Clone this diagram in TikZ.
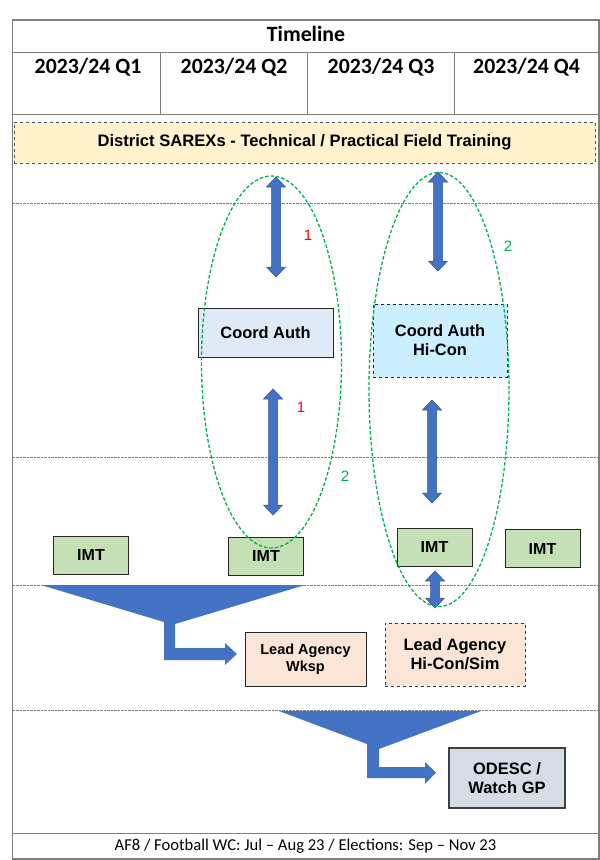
\documentclass[tikz,border=0pt]{standalone}
\usepackage{fontspec}
\setmainfont{Carlito}
\newfontfamily\arialf{Liberation Sans}
\usetikzlibrary{calc}
\definecolor{arrblue}{HTML}{4472C4}
\definecolor{arredge}{HTML}{2F528F}
\definecolor{greenell}{HTML}{00B050}
\definecolor{framegray}{HTML}{7F7F7F}
\definecolor{bannerfill}{HTML}{FFF2CC}
\definecolor{banneredge}{HTML}{44546A}
\definecolor{cafill}{HTML}{DEEBF7}
\definecolor{hcfill}{HTML}{CCEFFF}
\definecolor{imtfill}{HTML}{C5E0B4}
\definecolor{lafill}{HTML}{FBE5D6}
\definecolor{odfill}{HTML}{D6DCE5}
\newcommand{\dblarr}[2]{%
  \filldraw[blockarrow] ($(#1)+(-4.5,10)$) -- ($(#1)+(-9.5,10)$) -- (#1) -- ($(#1)+(9.5,10)$) -- ($(#1)+(4.5,10)$)
  -- ($(#2)+(4.5,-10)$) -- ($(#2)+(9.5,-10)$) -- (#2) -- ($(#2)+(-9.5,-10)$) -- ($(#2)+(-4.5,-10)$) -- cycle;}
\begin{document}
\begin{tikzpicture}[x=1pt,y=-1pt,
  frame/.style={draw=framegray,line width=1.4pt},
  sep/.style={draw=framegray,line width=0.9pt},
  hdash/.style={draw=gray,line width=0.6pt,dash pattern=on 2.5pt off 1pt},
  blockarrow/.style={fill=arrblue,draw=arredge,line width=0.5pt},
  funnel/.style={fill=arrblue},
  ell/.style={draw=greenell,line width=1.3pt,dash pattern=on 3.5pt off 2pt},
  box/.style={draw=black!85,line width=1pt,align=center,inner sep=0pt,
    font=\arialf\bfseries\fontsize{16.4}{19}\selectfont},
  imtbox/.style={box,fill=imtfill,minimum width=75pt,minimum height=38pt,
    font=\arialf\bfseries\fontsize{16}{18}\selectfont},
  hdr/.style={font=\bfseries\fontsize{21.8}{26}\selectfont,inner sep=0pt},
  numred/.style={text=red,font=\arialf\fontsize{15}{17}\selectfont},
  numgreen/.style={text=greenell,font=\arialf\fontsize{15}{17}\selectfont}]
\useasboundingbox (0,0) rectangle (600,860);
% frame and header
\draw[frame] (12.5,20) rectangle (599,859);
\draw[sep] (12.5,52) -- (599,52);
\draw[sep] (12.5,114) -- (599,114);
\draw[sep] (160,52) -- (160,114);
\draw[sep] (307,52) -- (307,114);
\draw[sep] (454,52) -- (454,114);
\draw[sep] (12.5,833) -- (599,833);
\node[hdr] (title) at (306,34) {Timeline};
\node[hdr] (q1) at (88,67.5) {2023/24 Q1};
\node[hdr] (q2) at (234,67.5) {2023/24 Q2};
\node[hdr] (q3) at (381,67.5) {2023/24 Q3};
\node[hdr] (q4) at (526.5,67.5) {2023/24 Q4};
\node[font=\fontsize{16.6}{19}\selectfont,inner sep=0pt] (footer) at (305.5,846) {AF8 / Football WC: Jul -- Aug 23 / Elections: Sep -- Nov 23};
% banner
\node[box,fill=bannerfill,draw=banneredge,dashed,line width=1pt,minimum width=581pt,minimum height=41pt,
  font=\arialf\bfseries\fontsize{16.6}{19}\selectfont] (banner) at (304.5,142.5) {District SAREXs - Technical / Practical Field Training};
% dashed separators
\foreach \yy in {203,457,585,710} \draw[hdash] (12.5,\yy) -- (599,\yy);
% boxes
\node[box,fill=cafill,minimum width=135pt,minimum height=49pt] (ca) at (265.5,332.5) {Coord Auth};
\node[box,fill=hcfill,dashed,minimum width=134pt,minimum height=73pt] (cahc) at (440,340.5) {Coord Auth\\Hi-Con};
\node[imtbox] (imt1) at (91,555) {IMT};
\node[imtbox] (imt2) at (266,556) {IMT};
\node[imtbox] (imt3) at (434.5,547) {IMT};
\node[imtbox] (imt4) at (542.5,548.5) {IMT};
\node[box,fill=lafill,minimum width=121pt,minimum height=54pt,
  font=\arialf\bfseries\fontsize{14.5}{17}\selectfont] (law) at (305.5,659) {Lead Agency\\Wksp};
\node[box,fill=lafill,dashed,draw=black!80,minimum width=140pt,minimum height=63pt,
  font=\arialf\bfseries\fontsize{16.5}{19}\selectfont] (lahc) at (455,654.5) {Lead Agency\\Hi-Con/Sim};
\node[box,fill=odfill,draw=black!75,line width=1.3pt,minimum width=116pt,minimum height=60pt,
  font=\arialf\bfseries\fontsize{16.5}{19}\selectfont] (odesc) at (507,778) {ODESC /\\Watch GP};
% funnels
\fill[funnel] (41,585) -- (305,585) -- (175,624) -- (175,648) -- (225,648) -- (225,643) -- (237,654)
  -- (225,665) -- (225,660) -- (164,660) -- (164,622) -- cycle;
\fill[funnel] (279,711) -- (481,711) -- (379,749) -- (379,767) -- (425,767) -- (425,762) -- (436,772.5)
  -- (425,784) -- (425,778) -- (367,778) -- (367,744) -- cycle;
% double arrows
\coordinate (a1t) at (276,177);
\coordinate (a1b) at (276,277);
\coordinate (a2t) at (273,389);
\coordinate (a2b) at (273,515);
\coordinate (a3t) at (438,172);
\coordinate (a3b) at (438,271);
\coordinate (a4t) at (432,400);
\coordinate (a4b) at (432,503);
\coordinate (a5t) at (435,571);
\coordinate (a5b) at (435,608);
\dblarr{a1t}{a1b}
\dblarr{a2t}{a2b}
\dblarr{a3t}{a3b}
\dblarr{a4t}{a4b}
\dblarr{a5t}{a5b}
% ellipses
\draw[ell] (271.5,362) ellipse [x radius=70pt, y radius=186pt];
\draw[ell] (439,389.5) ellipse [x radius=70pt, y radius=217pt];
% labels
\node[numred] (n1a) at (308,235) {1};
\node[numred] (n1b) at (301,407) {1};
\node[numgreen] (n2a) at (345,476) {2};
\node[numgreen] (n2b) at (508,246) {2};
\end{tikzpicture}
\end{document}
